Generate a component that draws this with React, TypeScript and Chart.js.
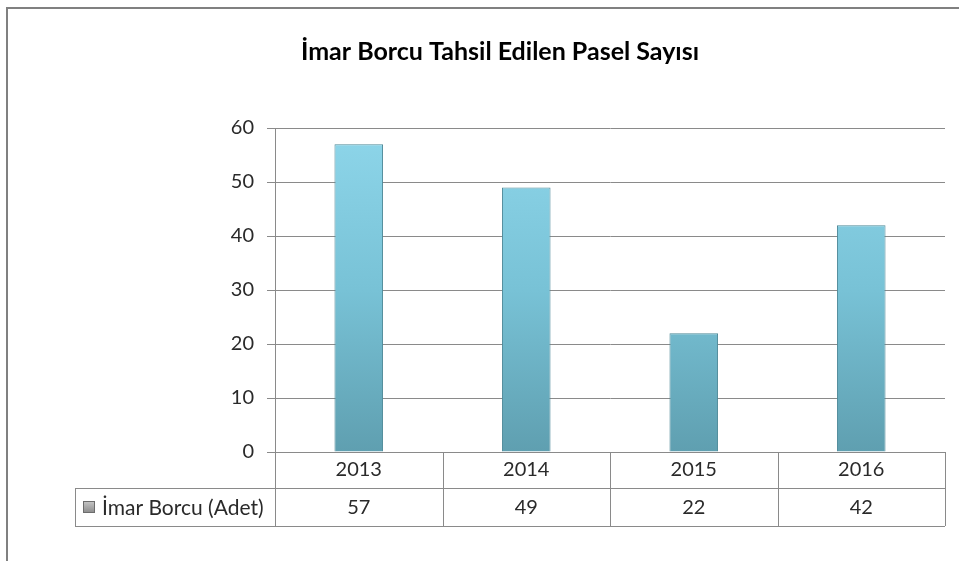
import React, { useEffect, useRef } from "react";
import { Chart, registerables } from "chart.js";

Chart.register(...registerables);

const TITLE = "İmar Borcu Tahsil Edilen Pasel Sayısı";
const SERIES_LABEL = "İmar Borcu (Adet)";
const categories = ["2013", "2014", "2015", "2016"];
const values = [57, 49, 22, 42];
const yMin = 0;
const yMax = 60;
const yStep = 10;

const FONT = "Lato, 'Open Sans', sans-serif";
const LINE = "#8a8a8a";
const TEXT = "#2a2a2a";

const framePlugin = {
  id: "frame",
  beforeDraw(chart: any) {
    const ctx = chart.ctx;
    ctx.save();
    ctx.fillStyle = "#ffffff";
    ctx.fillRect(0, 0, chart.width, chart.height);
    ctx.strokeStyle = "#808080";
    ctx.lineWidth = 2;
    ctx.beginPath();
    ctx.moveTo(7, chart.height);
    ctx.lineTo(7, 8);
    ctx.lineTo(chart.width, 8);
    ctx.stroke();
    ctx.restore();
  },
};

const tablePlugin = {
  id: "dataTable",
  afterDraw(chart: any) {
    const ctx = chart.ctx;
    const { left, right, bottom } = chart.chartArea;
    const n = categories.length;
    const w = (right - left) / n;
    const row1 = bottom + 36;
    const row2 = bottom + 74;
    const legendLeft = left - 200;
    ctx.save();
    ctx.strokeStyle = LINE;
    ctx.lineWidth = 1;
    ctx.beginPath();
    ctx.moveTo(legendLeft, row1 + 0.5);
    ctx.lineTo(right, row1 + 0.5);
    ctx.moveTo(legendLeft, row2 + 0.5);
    ctx.lineTo(right, row2 + 0.5);
    ctx.moveTo(legendLeft + 0.5, row1);
    ctx.lineTo(legendLeft + 0.5, row2);
    for (let k = 0; k <= n; k++) {
      const x = Math.round(left + k * w) + 0.5;
      ctx.moveTo(x, bottom);
      ctx.lineTo(x, row2);
    }
    ctx.stroke();

    // legend marker
    const my = (row1 + row2) / 2;
    const g = ctx.createLinearGradient(0, my - 6, 0, my + 6);
    g.addColorStop(0, "#c8c8c8");
    g.addColorStop(1, "#8a8a8a");
    ctx.fillStyle = g;
    ctx.fillRect(legendLeft + 8, my - 6, 12, 12);
    ctx.strokeStyle = "#6d6d6d";
    ctx.strokeRect(legendLeft + 8.5, my - 5.5, 11, 11);

    ctx.fillStyle = TEXT;
    ctx.font = `21px ${FONT}`;
    ctx.textBaseline = "middle";
    ctx.textAlign = "left";
    ctx.fillText(SERIES_LABEL, legendLeft + 27, my + 1);
    ctx.font = `20px ${FONT}`;
    ctx.textAlign = "center";
    values.forEach((v, i) => {
      const x = chart.scales.x.getPixelForValue(i);
      ctx.fillText(String(v), x, my + 1);
    });
    ctx.restore();
  },
};

export default function App() {
  const ref = useRef<HTMLCanvasElement>(null);
  useEffect(() => {
    if (!ref.current) return;
    const chart = new Chart(ref.current, {
      type: "bar",
      data: {
        labels: categories,
        datasets: [
          {
            label: SERIES_LABEL,
            data: values,
            backgroundColor: (c: any) => {
              const area = c.chart.chartArea;
              if (!area) return "#78c2d6";
              const g = c.chart.ctx.createLinearGradient(0, area.top, 0, area.bottom);
              g.addColorStop(0, "#8ed6ea");
              g.addColorStop(0.5, "#78c2d6");
              g.addColorStop(1, "#5f9fb0");
              return g;
            },
            borderColor: "#4f8a99",
            borderWidth: 1,
            barPercentage: 0.29,
            categoryPercentage: 1,
          },
        ],
      },
      plugins: [framePlugin, tablePlugin],
      options: {
        responsive: false,
        animation: false,
        layout: { padding: { left: 55, right: 14, top: 0, bottom: 0 } },
        plugins: {
          legend: { display: false },
          tooltip: { enabled: false },
          title: {
            display: true,
            text: TITLE,
            color: "#000000",
            font: { family: FONT, size: 25, weight: "bold", lineHeight: 1.2 },
            padding: { top: 37, bottom: 61 },
          },
        },
        scales: {
          x: {
            grid: { display: false, drawTicks: false },
            border: { display: false },
            ticks: { color: TEXT, font: { family: FONT, size: 20 }, padding: 6 },
            afterFit: (s: any) => {
              s.height = 109;
            },
          },
          y: {
            min: yMin,
            max: yMax,
            grid: { color: LINE, lineWidth: 1, tickLength: 8 },
            border: { display: true, color: LINE, width: 1 },
            ticks: {
              stepSize: yStep,
              color: TEXT,
              font: { family: FONT, size: 20 },
              padding: 13,
            },
            afterFit: (s: any) => {
              s.width = 220;
            },
          },
        },
      },
    });
    return () => chart.destroy();
  }, []);
  return (
    <div style={{ position: "fixed", left: 0, top: 0, width: 959, height: 561 }}>
      <canvas ref={ref} width={959} height={561} style={{ width: 959, height: 561, display: "block" }} />
    </div>
  );
}
